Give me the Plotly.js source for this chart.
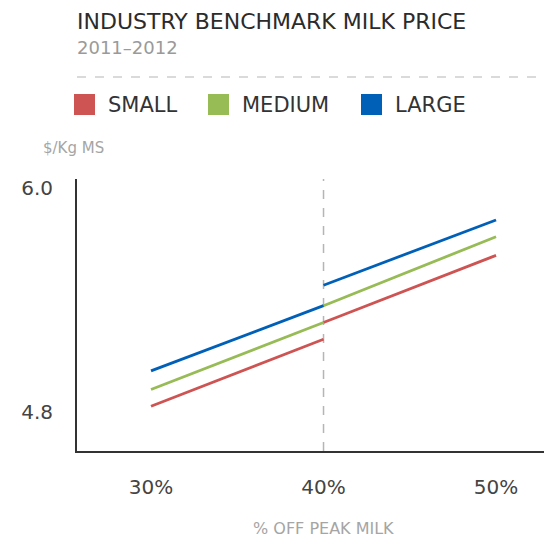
<!DOCTYPE html>
<html>
<head>
<meta charset="utf-8">
<script src="https://cdn.plot.ly/plotly-3.0.1.min.js"></script>
<style>html,body{margin:0;padding:0;background:#fff;}#chart{width:544px;height:538px;}</style>
</head>
<body>
<div id="chart"></div>
<script>
// Data
const xValues = [30, 40, null, 40, 50];
const seriesNames = ["SMALL", "MEDIUM", "LARGE"];
const smallValues = [4.83, 5.19, null, 5.28, 5.64];
const mediumValues = [4.92, 5.28, null, 5.37, 5.74];
const largeValues = [5.02, 5.37, null, 5.48, 5.83];
const seriesColors = ["#cd5452", "#97bb55", "#0060b8"];
const xTickVals = [30, 40, 50];
const xTickText = ["30%", "40%", "50%"];
const yTickVals = [4.8, 6.0];
const yTickText = ["4.8", "6.0"];

const FONT = "DejaVu Sans, Lato, sans-serif";
const W = 544, H = 538;
const M = {l: 77, r: 0, t: 179, b: 87};
const plotH = H - M.t - M.b, plotW = W - M.l - M.r;
const py = p => (H - M.b - p) / plotH;
const px = p => (p - M.l) / plotW;

const allValues = [smallValues, mediumValues, largeValues];
const traces = allValues.map((vals, i) => ({
  type: "scatter", mode: "lines", x: xValues, y: vals, name: seriesNames[i],
  connectgaps: false, line: {color: seriesColors[i], width: 2.8}, showlegend: false,
  hoverinfo: "x+y"
}));

const shapes = [
  {type: "line", xref: "x", yref: "paper", x0: 40, x1: 40, y0: 0, y1: 1,
   line: {color: "#b5b5b5", width: 1.5, dash: "dash"}, layer: "below"},
  {type: "line", xref: "paper", yref: "paper", x0: px(77), x1: px(544), y0: py(77), y1: py(77),
   line: {color: "#b5b5b5", width: 1.2, dash: "dash"}}
];
const annotations = [
  {text: "INDUSTRY BENCHMARK MILK PRICE", xref: "paper", yref: "paper", x: px(75), y: py(21),
   xanchor: "left", yanchor: "middle", showarrow: false, font: {family: FONT, size: 22, color: "#2b2b2b"}},
  {text: "2011–2012", xref: "paper", yref: "paper", x: px(75), y: py(48),
   xanchor: "left", yanchor: "middle", showarrow: false, font: {family: FONT, size: 18, color: "#9a9a9a"}},
  {text: "$/Kg MS", xref: "paper", yref: "paper", x: px(41), y: py(148),
   xanchor: "left", yanchor: "middle", showarrow: false, font: {family: FONT, size: 15, color: "#a5a5a5"}},
  {text: "% OFF PEAK MILK", xref: "x", yref: "paper", x: 40, y: py(528),
   xanchor: "center", yanchor: "middle", showarrow: false, font: {family: FONT, size: 16, color: "#a5a5a5"}}
];
const legendX = [74, 208, 361];
seriesNames.forEach((n, i) => {
  shapes.push({type: "rect", xref: "paper", yref: "paper", x0: px(legendX[i]), x1: px(legendX[i] + 21),
    y0: py(115), y1: py(94), fillcolor: seriesColors[i], line: {width: 0}});
  annotations.push({text: n, xref: "paper", yref: "paper", x: px(legendX[i] + 32), y: py(105),
    xanchor: "left", yanchor: "middle", showarrow: false, font: {family: FONT, size: 21, color: "#333"}});
});

const layout = {
  width: W, height: H, margin: M, paper_bgcolor: "#fff", plot_bgcolor: "#fff",
  showlegend: false,
  xaxis: {range: [25.71, 52.78], tickvals: xTickVals, ticktext: xTickText, showgrid: false, zeroline: false,
    showline: true, linecolor: "#333", linewidth: 2, ticks: "outside", ticklen: 17, tickcolor: "rgba(0,0,0,0)",
    tickfont: {family: FONT, size: 20, color: "#444"}},
  yaxis: {range: [4.59, 6.05], tickvals: yTickVals, ticktext: yTickText, showgrid: false, zeroline: false,
    showline: true, linecolor: "#333", linewidth: 2, ticks: "outside", ticklen: 18, tickcolor: "rgba(0,0,0,0)",
    tickfont: {family: FONT, size: 20, color: "#444"}},
  shapes: shapes, annotations: annotations
};
Plotly.newPlot("chart", traces, layout, {displayModeBar: false, staticPlot: true});
</script>
</body>
</html>
